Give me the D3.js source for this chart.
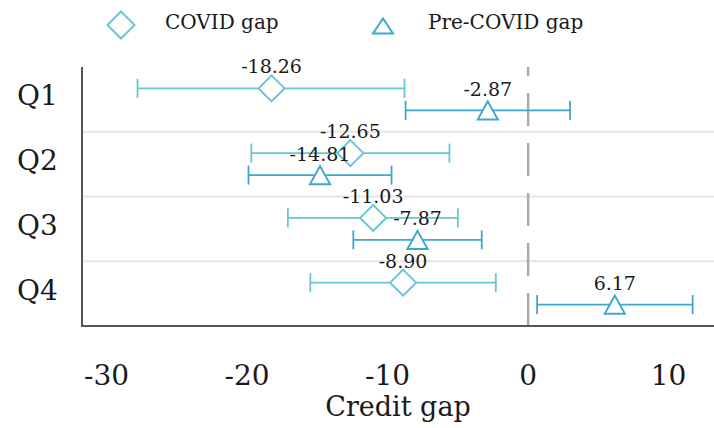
<!DOCTYPE html>
<html>
<head>
<meta charset="utf-8">
<script src="https://cdn.jsdelivr.net/npm/d3@7"></script>
<style>
  html, body { margin: 0; padding: 0; background: #fff; }
  svg { display: block; }
</style>
</head>
<body>
<svg id="chart" width="714" height="428"></svg>
<script>
// ---- data ----
const quarters = ["Q1", "Q2", "Q3", "Q4"];
const covidGap = [-18.26, -12.65, -11.03, -8.90];
const covidLow = [-27.8, -19.7, -17.1, -15.5];
const covidHigh = [-8.8, -5.6, -5.0, -2.3];
const preCovidGap = [-2.87, -14.81, -7.87, 6.17];
const preCovidLow = [-8.72, -19.9, -12.44, 0.64];
const preCovidHigh = [2.98, -9.72, -3.3, 11.71];
const xTicks = [-30, -20, -10, 0, 10];
const seriesNames = ["COVID gap", "Pre-COVID gap"];

// ---- layout ----
const W = 714, H = 428;
const FONT = "'DejaVu Serif', serif";
const plot = { left: 82, right: 715, top: 67, bottom: 326 };
const colCovid = "#64c7d3";
const colPre = "#3ea7cd";

const svg = d3.select("#chart");

const x = d3.scaleLinear().domain([-31.75, 13.3]).range([plot.left, plot.right]);
const yc = d3.scaleLinear().domain([-0.5, quarters.length - 0.5]).range([plot.top, plot.bottom]);
const off = 11;

function txt(sel) {
  return sel.attr("font-family", FONT).attr("fill", "#1a1a1a");
}

// separators between quarters
const seps = d3.range(1, quarters.length).map(i => i - 0.5);
svg.append("g").selectAll("line").data(seps).join("line")
  .attr("x1", plot.left).attr("x2", W)
  .attr("y1", d => yc(d)).attr("y2", d => yc(d))
  .attr("stroke", "#e6e6e6").attr("stroke-width", 2);

// zero dashed line (drawn bottom to top)
svg.append("line")
  .attr("x1", x(0)).attr("x2", x(0))
  .attr("y1", plot.bottom).attr("y2", plot.top)
  .attr("stroke", "#ababab").attr("stroke-width", 2.5)
  .attr("stroke-dasharray", "33,17");

// spines
svg.append("line").attr("x1", plot.left).attr("x2", plot.left)
  .attr("y1", plot.top).attr("y2", plot.bottom + 1)
  .attr("stroke", "#555").attr("stroke-width", 2);
svg.append("line").attr("x1", plot.left - 1).attr("x2", W)
  .attr("y1", plot.bottom).attr("y2", plot.bottom)
  .attr("stroke", "#555").attr("stroke-width", 2);

// x tick labels
txt(svg.append("g").selectAll("text").data(xTicks).join("text"))
  .attr("x", d => x(d)).attr("y", 385)
  .attr("text-anchor", "middle").attr("font-size", 28)
  .text(d => String(d));

// x title
txt(svg.append("text")).attr("x", 398).attr("y", 416)
  .attr("text-anchor", "middle").attr("font-size", 27)
  .text("Credit gap");

// y labels
txt(svg.append("g").selectAll("text").data(quarters).join("text"))
  .attr("x", 37.5).attr("y", (d, i) => yc(i) + 6)
  .attr("text-anchor", "middle").attr("font-size", 28)
  .text(d => d);

const capH = 9.5;
function diamondPath(cx, cy, r) {
  return `M${cx},${cy - r}L${cx + r},${cy}L${cx},${cy + r}L${cx - r},${cy}Z`;
}
function trianglePath(cx, cy, hw, hh) {
  return `M${cx},${cy - hh}L${cx + hw},${cy + hh}L${cx - hw},${cy + hh}Z`;
}

function drawSeries(vals, lows, highs, dy, color, kind) {
  const g = svg.append("g");
  const data = vals.map((v, i) => ({ v, lo: lows[i], hi: highs[i], y: yc(i) + dy }));
  g.selectAll(".eb").data(data).join("line")
    .attr("x1", d => x(d.lo)).attr("x2", d => x(d.hi))
    .attr("y1", d => d.y).attr("y2", d => d.y)
    .attr("stroke", color).attr("stroke-width", 1.8);
  g.selectAll(".capl").data(data).join("line")
    .attr("x1", d => x(d.lo)).attr("x2", d => x(d.lo))
    .attr("y1", d => d.y - capH).attr("y2", d => d.y + capH)
    .attr("stroke", color).attr("stroke-width", 1.8);
  g.selectAll(".caph").data(data).join("line")
    .attr("x1", d => x(d.hi)).attr("x2", d => x(d.hi))
    .attr("y1", d => d.y - capH).attr("y2", d => d.y + capH)
    .attr("stroke", color).attr("stroke-width", 1.8);
  g.selectAll(".mk").data(data).join("path")
    .attr("d", d => kind === "diamond" ? diamondPath(x(d.v), d.y, 13) : trianglePath(x(d.v), d.y, 10, 9))
    .attr("fill", "#fff").attr("stroke", color).attr("stroke-width", 2);
  return data;
}

const dCovid = drawSeries(covidGap, covidLow, covidHigh, -off, colCovid, "diamond");
const dPre = drawSeries(preCovidGap, preCovidLow, preCovidHigh, off, colPre, "triangle");

// value labels on top
const lab = svg.append("g");
txt(lab.selectAll(".lc").data(dCovid).join("text"))
  .attr("x", d => x(d.v)).attr("y", d => d.y - 15)
  .attr("text-anchor", "middle").attr("font-size", 19)
  .text(d => d.v.toFixed(2));
txt(lab.selectAll(".lp").data(dPre).join("text"))
  .attr("x", d => x(d.v)).attr("y", d => d.y - 14.5)
  .attr("text-anchor", "middle").attr("font-size", 19)
  .text(d => d.v.toFixed(2));

// legend
const leg = svg.append("g");
leg.append("path").attr("d", diamondPath(121, 25, 13.5))
  .attr("fill", "#fff").attr("stroke", colCovid).attr("stroke-width", 2);
txt(leg.append("text")).attr("x", 165).attr("y", 29).attr("font-size", 20).text(seriesNames[0]);
leg.append("path").attr("d", trianglePath(383, 26, 10, 7.5))
  .attr("fill", "#fff").attr("stroke", colPre).attr("stroke-width", 2);
txt(leg.append("text")).attr("x", 428).attr("y", 29).attr("font-size", 20).text(seriesNames[1]);
</script>
</body>
</html>
